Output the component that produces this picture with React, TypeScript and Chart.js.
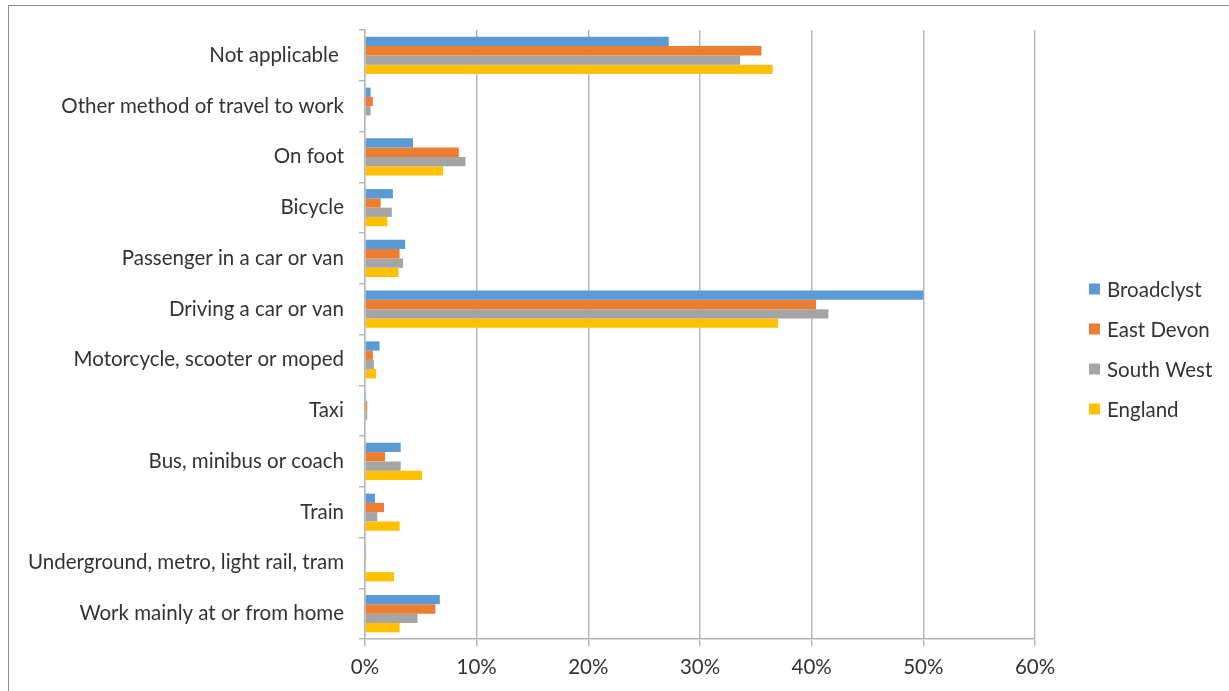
import { useEffect, useRef } from "react";
import { Chart, registerables } from "chart.js";

Chart.register(...registerables);

// Method of travel to work, share of residents aged 16-74 (%)
const categories = [
  "Not applicable ",
  "Other method of travel to work",
  "On foot",
  "Bicycle",
  "Passenger in a car or van",
  "Driving a car or van",
  "Motorcycle, scooter or moped",
  "Taxi",
  "Bus, minibus or coach",
  "Train",
  "Underground, metro, light rail, tram",
  "Work mainly at or from home",
];

const seriesNames = ["Broadclyst", "East Devon", "South West", "England"];
const seriesColors = ["#5B9BD5", "#ED7D31", "#A5A5A5", "#FFC000"];

const broadclyst = [27.2, 0.5, 4.3, 2.5, 3.6, 50.0, 1.3, 0.1, 3.2, 0.9, 0.1, 6.7];
const eastDevon = [35.5, 0.7, 8.4, 1.4, 3.1, 40.4, 0.7, 0.2, 1.8, 1.7, 0.1, 6.3];
const southWest = [33.6, 0.5, 9.0, 2.4, 3.4, 41.5, 0.8, 0.2, 3.2, 1.1, 0.05, 4.7];
const england = [36.5, 0, 7.0, 2.0, 3.0, 37.0, 1.0, 0, 5.1, 3.1, 2.6, 3.1];

const xTickValues = [0, 10, 20, 30, 40, 50, 60];

const FONT = "Lato, 'Open Sans', sans-serif";
const FONT_SIZE = 20.5;
const TEXT_COLOR = "#333333";
const GRID_COLOR = "#b4b4b4";

// Legend drawn as a single column to the right of the plot
const sideLegend = {
  id: "sideLegend",
  afterDraw(chart: Chart) {
    const { ctx, chartArea } = chart;
    const rowGap = 40;
    const box = 11;
    const x = chartArea.right + 54;
    const midY = (chartArea.top + chartArea.bottom) / 2 + 14.5;
    const firstY = midY - ((seriesNames.length - 1) * rowGap) / 2;
    ctx.save();
    ctx.font = `${FONT_SIZE}px ${FONT}`;
    ctx.textBaseline = "middle";
    ctx.textAlign = "left";
    seriesNames.forEach((name, i) => {
      const y = firstY + i * rowGap;
      ctx.fillStyle = seriesColors[i];
      ctx.fillRect(x, y - box / 2, box, box);
      ctx.fillStyle = TEXT_COLOR;
      ctx.fillText(name, x + 18, y + 1);
    });
    ctx.restore();
  },
};

export default function App() {
  const canvasRef = useRef<HTMLCanvasElement | null>(null);

  useEffect(() => {
    if (!canvasRef.current) return;
    const values = [broadclyst, eastDevon, southWest, england];
    const chart = new Chart(canvasRef.current, {
      type: "bar",
      data: {
        labels: categories,
        datasets: seriesNames.map((name, i) => ({
          label: name,
          data: values[i],
          backgroundColor: seriesColors[i],
          borderWidth: 0,
          barPercentage: 1,
          categoryPercentage: 0.73,
        })),
      },
      options: {
        indexAxis: "y",
        responsive: true,
        maintainAspectRatio: false,
        animation: false,
        layout: { padding: { top: 30, right: 194, left: 0, bottom: 0 } },
        plugins: {
          legend: { display: false },
          tooltip: { enabled: false },
        },
        scales: {
          x: {
            min: xTickValues[0],
            max: xTickValues[xTickValues.length - 1],
            afterBuildTicks: (scale: any) => {
              scale.ticks = xTickValues.map((v) => ({ value: v }));
            },
            ticks: {
              callback: (v: any) => `${v}%`,
              color: TEXT_COLOR,
              font: { family: FONT, size: FONT_SIZE },
              padding: 9,
              maxRotation: 0,
            },
            grid: {
              color: GRID_COLOR,
              lineWidth: 1.4,
              tickLength: 7,
              drawTicks: true,
            },
            border: { color: GRID_COLOR, width: 1.4 },
            afterFit: (scale: any) => {
              scale.height = 52;
            },
          },
          y: {
            ticks: {
              color: TEXT_COLOR,
              font: { family: FONT, size: FONT_SIZE },
              padding: 15,
              autoSkip: false,
            },
            grid: {
              drawOnChartArea: false,
              offset: true,
              tickLength: 6,
              color: GRID_COLOR,
              lineWidth: 1.4,
            },
            border: { color: GRID_COLOR, width: 1.4 },
            afterFit: (scale: any) => {
              scale.width = 365;
            },
          },
        },
      },
      plugins: [sideLegend],
    });
    return () => chart.destroy();
  }, []);

  return (
    <div style={{ position: "absolute", left: 0, top: 0, width: 1229, height: 691, background: "#fff", overflow: "hidden" }}>
      <div
        style={{
          position: "absolute",
          left: 8,
          top: 5,
          width: 1300,
          height: 800,
          border: "1px solid #8c8c8c",
          pointerEvents: "none",
        }}
      />
      <canvas ref={canvasRef} style={{ position: "absolute", left: 0, top: 0 }} />
    </div>
  );
}
